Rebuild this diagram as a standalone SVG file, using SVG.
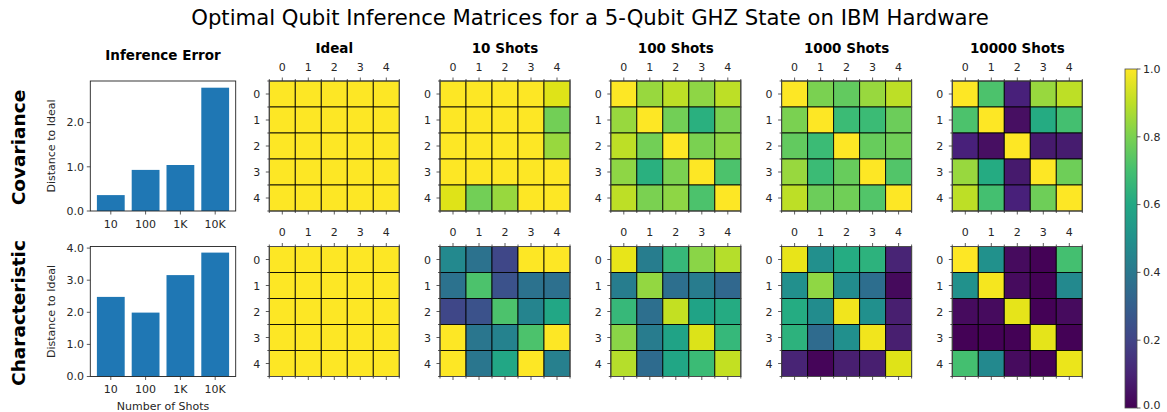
<svg xmlns="http://www.w3.org/2000/svg" width="1167" height="412" viewBox="0 0 1167 412">
<style>
text{font-family:"DejaVu Sans","Liberation Sans",sans-serif;fill:#262626}
.tk{font-size:11px}
.ttl{font-size:13.5px;font-weight:bold;fill:#000}
.row{font-size:18.5px;font-weight:bold;fill:#000}
.lab{font-size:11px}
.c{stroke:#000;stroke-opacity:0.85;stroke-width:1}
.frame{fill:none;stroke:#4d4d4d;stroke-width:1}
.tick{stroke:#333;stroke-width:0.8;fill:none}
.bar{fill:#1f77b4}
.ax{fill:none;stroke:#222;stroke-width:0.9}
</style>
<defs>
  <linearGradient id="viridis" x1="0" y1="1" x2="0" y2="0">
    <stop offset="0" stop-color="#440154"/>
    <stop offset="0.1" stop-color="#482475"/>
    <stop offset="0.2" stop-color="#414487"/>
    <stop offset="0.3" stop-color="#355f8d"/>
    <stop offset="0.4" stop-color="#2a788e"/>
    <stop offset="0.5" stop-color="#21918c"/>
    <stop offset="0.6" stop-color="#22a884"/>
    <stop offset="0.7" stop-color="#44bf70"/>
    <stop offset="0.8" stop-color="#7ad151"/>
    <stop offset="0.9" stop-color="#bddf26"/>
    <stop offset="1" stop-color="#fde725"/>
  </linearGradient>
  <!-- major ticks at cell centres, minor ticks at cell boundaries -->
  <path id="mticks" class="tick" d="M13,0v-3.5M39,0v-3.5M65,0v-3.5M91,0v-3.5M117,0v-3.5
    M13,130v3.5M39,130v3.5M65,130v3.5M91,130v3.5M117,130v3.5
    M0,13h-3.5M0,39h-3.5M0,65h-3.5M0,91h-3.5M0,117h-3.5
    M0,0v-2M26,0v-2M52,0v-2M78,0v-2M104,0v-2M130,0v-2
    M0,130v2M26,130v2M52,130v2M78,130v2M104,130v2M130,130v2
    M0,0h-2M0,26h-2M0,52h-2M0,78h-2M0,104h-2M0,130h-2"/>
</defs>

<rect width="1167" height="412" fill="#fff"/>

<text x="590" y="25" text-anchor="middle" style="font-size:21.2px;fill:#000">Optimal Qubit Inference Matrices for a 5-Qubit GHZ State on IBM Hardware</text>

<!-- row headings -->
<text class="row" transform="translate(25,147.5) rotate(-90)" text-anchor="middle">Covariance</text>
<text class="row" transform="translate(25,313) rotate(-90)" text-anchor="middle">Characteristic</text>

<!-- bar chart: covariance error -->
<g id="bar-cov">
  <text class="ttl" x="163" y="59.5" text-anchor="middle">Inference Error</text>
  <rect class="bar" x="96.9" y="195.1" width="27.8" height="15.9"/>
  <rect class="bar" x="131.7" y="169.9" width="27.8" height="41.1"/>
  <rect class="bar" x="166.5" y="165" width="27.8" height="46"/>
  <rect class="bar" x="201.3" y="87.7" width="27.8" height="123.3"/>
  <rect class="ax" x="90.3" y="81" width="145.4" height="130"/>
  <path class="tick" d="M90.3,211h-3.5M90.3,166.8h-3.5M90.3,122.6h-3.5M110.8,211v3.5M145.6,211v3.5M180.4,211v3.5M215.2,211v3.5"/>
  <text class="tk" x="84" y="214.8" text-anchor="end">0.0</text>
  <text class="tk" x="84" y="170.6" text-anchor="end">1.0</text>
  <text class="tk" x="84" y="126.4" text-anchor="end">2.0</text>
  <text class="tk" x="110.8" y="227.5" text-anchor="middle">10</text>
  <text class="tk" x="145.6" y="227.5" text-anchor="middle">100</text>
  <text class="tk" x="180.4" y="227.5" text-anchor="middle">1K</text>
  <text class="tk" x="215.2" y="227.5" text-anchor="middle">10K</text>
  <text class="lab" transform="translate(55,146) rotate(-90)" text-anchor="middle">Distance to Ideal</text>
</g>

<!-- bar chart: characteristic error -->
<g id="bar-char">
  <rect class="bar" x="96.9" y="296.9" width="27.8" height="79.6"/>
  <rect class="bar" x="131.7" y="312.6" width="27.8" height="63.9"/>
  <rect class="bar" x="166.5" y="275.1" width="27.8" height="101.4"/>
  <rect class="bar" x="201.3" y="252.6" width="27.8" height="123.9"/>
  <rect class="ax" x="90.3" y="246.5" width="145.4" height="130"/>
  <path class="tick" d="M90.3,376.5h-3.5M90.3,344.4h-3.5M90.3,312.3h-3.5M90.3,280.2h-3.5M90.3,248.1h-3.5M110.8,376.5v3.5M145.6,376.5v3.5M180.4,376.5v3.5M215.2,376.5v3.5"/>
  <text class="tk" x="84" y="380.3" text-anchor="end">0.0</text>
  <text class="tk" x="84" y="348.2" text-anchor="end">1.0</text>
  <text class="tk" x="84" y="316.1" text-anchor="end">2.0</text>
  <text class="tk" x="84" y="284" text-anchor="end">3.0</text>
  <text class="tk" x="84" y="251.9" text-anchor="end">4.0</text>
  <text class="tk" x="110.8" y="393" text-anchor="middle">10</text>
  <text class="tk" x="145.6" y="393" text-anchor="middle">100</text>
  <text class="tk" x="180.4" y="393" text-anchor="middle">1K</text>
  <text class="tk" x="215.2" y="393" text-anchor="middle">10K</text>
  <text class="lab" transform="translate(55,311.5) rotate(-90)" text-anchor="middle">Distance to Ideal</text>
  <text class="lab" x="163" y="409.5" text-anchor="middle">Number of Shots</text>
</g>

<!-- ===== covariance matrices ===== -->
<g id="cov-ideal" transform="translate(269.3,81)">
  <text class="ttl" x="65" y="-28.5" text-anchor="middle">Ideal</text>
  <g class="c" fill="#fde725">
    <rect x="0" y="0" width="26" height="26"/><rect x="26" y="0" width="26" height="26"/><rect x="52" y="0" width="26" height="26"/><rect x="78" y="0" width="26" height="26"/><rect x="104" y="0" width="26" height="26"/>
    <rect x="0" y="26" width="26" height="26"/><rect x="26" y="26" width="26" height="26"/><rect x="52" y="26" width="26" height="26"/><rect x="78" y="26" width="26" height="26"/><rect x="104" y="26" width="26" height="26"/>
    <rect x="0" y="52" width="26" height="26"/><rect x="26" y="52" width="26" height="26"/><rect x="52" y="52" width="26" height="26"/><rect x="78" y="52" width="26" height="26"/><rect x="104" y="52" width="26" height="26"/>
    <rect x="0" y="78" width="26" height="26"/><rect x="26" y="78" width="26" height="26"/><rect x="52" y="78" width="26" height="26"/><rect x="78" y="78" width="26" height="26"/><rect x="104" y="78" width="26" height="26"/>
    <rect x="0" y="104" width="26" height="26"/><rect x="26" y="104" width="26" height="26"/><rect x="52" y="104" width="26" height="26"/><rect x="78" y="104" width="26" height="26"/><rect x="104" y="104" width="26" height="26"/>
  </g>
  <rect class="frame" width="130" height="130"/>
  <use href="#mticks"/>
  <g class="tk" text-anchor="middle"><text x="13" y="-10.3">0</text><text x="39" y="-10.3">1</text><text x="65" y="-10.3">2</text><text x="91" y="-10.3">3</text><text x="117" y="-10.3">4</text></g>
  <g class="tk" text-anchor="end"><text x="-9" y="17">0</text><text x="-9" y="43">1</text><text x="-9" y="69">2</text><text x="-9" y="95">3</text><text x="-9" y="121">4</text></g>
</g>

<g id="cov-10" transform="translate(440,81)">
  <text class="ttl" x="65" y="-28.5" text-anchor="middle">10 Shots</text>
  <g class="c">
    <rect x="0" y="0" width="26" height="26" fill="#fde725"/><rect x="26" y="0" width="26" height="26" fill="#fde725"/><rect x="52" y="0" width="26" height="26" fill="#fde725"/><rect x="78" y="0" width="26" height="26" fill="#fde725"/><rect x="104" y="0" width="26" height="26" fill="#dfe318"/>
    <rect x="0" y="26" width="26" height="26" fill="#fde725"/><rect x="26" y="26" width="26" height="26" fill="#fde725"/><rect x="52" y="26" width="26" height="26" fill="#fde725"/><rect x="78" y="26" width="26" height="26" fill="#fde725"/><rect x="104" y="26" width="26" height="26" fill="#72cf56"/>
    <rect x="0" y="52" width="26" height="26" fill="#fde725"/><rect x="26" y="52" width="26" height="26" fill="#fde725"/><rect x="52" y="52" width="26" height="26" fill="#fde725"/><rect x="78" y="52" width="26" height="26" fill="#fde725"/><rect x="104" y="52" width="26" height="26" fill="#98d83e"/>
    <rect x="0" y="78" width="26" height="26" fill="#fde725"/><rect x="26" y="78" width="26" height="26" fill="#fde725"/><rect x="52" y="78" width="26" height="26" fill="#fde725"/><rect x="78" y="78" width="26" height="26" fill="#fde725"/><rect x="104" y="78" width="26" height="26" fill="#fde725"/>
    <rect x="0" y="104" width="26" height="26" fill="#dfe318"/><rect x="26" y="104" width="26" height="26" fill="#72cf56"/><rect x="52" y="104" width="26" height="26" fill="#98d83e"/><rect x="78" y="104" width="26" height="26" fill="#fde725"/><rect x="104" y="104" width="26" height="26" fill="#fde725"/>
  </g>
  <rect class="frame" width="130" height="130"/>
  <use href="#mticks"/>
  <g class="tk" text-anchor="middle"><text x="13" y="-10.3">0</text><text x="39" y="-10.3">1</text><text x="65" y="-10.3">2</text><text x="91" y="-10.3">3</text><text x="117" y="-10.3">4</text></g>
  <g class="tk" text-anchor="end"><text x="-9" y="17">0</text><text x="-9" y="43">1</text><text x="-9" y="69">2</text><text x="-9" y="95">3</text><text x="-9" y="121">4</text></g>
</g>

<g id="cov-100" transform="translate(610.8,81)">
  <text class="ttl" x="65" y="-28.5" text-anchor="middle">100 Shots</text>
  <g class="c">
    <rect x="0" y="0" width="26" height="26" fill="#fde725"/><rect x="26" y="0" width="26" height="26" fill="#98d83e"/><rect x="52" y="0" width="26" height="26" fill="#bddf26"/><rect x="78" y="0" width="26" height="26" fill="#8ed645"/><rect x="104" y="0" width="26" height="26" fill="#bddf26"/>
    <rect x="0" y="26" width="26" height="26" fill="#98d83e"/><rect x="26" y="26" width="26" height="26" fill="#fde725"/><rect x="52" y="26" width="26" height="26" fill="#72cf56"/><rect x="78" y="26" width="26" height="26" fill="#2ab07f"/><rect x="104" y="26" width="26" height="26" fill="#7ad151"/>
    <rect x="0" y="52" width="26" height="26" fill="#bddf26"/><rect x="26" y="52" width="26" height="26" fill="#72cf56"/><rect x="52" y="52" width="26" height="26" fill="#fde725"/><rect x="78" y="52" width="26" height="26" fill="#7ad151"/><rect x="104" y="52" width="26" height="26" fill="#8ed645"/>
    <rect x="0" y="78" width="26" height="26" fill="#8ed645"/><rect x="26" y="78" width="26" height="26" fill="#2ab07f"/><rect x="52" y="78" width="26" height="26" fill="#7ad151"/><rect x="78" y="78" width="26" height="26" fill="#fde725"/><rect x="104" y="78" width="26" height="26" fill="#4cc26c"/>
    <rect x="0" y="104" width="26" height="26" fill="#bddf26"/><rect x="26" y="104" width="26" height="26" fill="#7ad151"/><rect x="52" y="104" width="26" height="26" fill="#8ed645"/><rect x="78" y="104" width="26" height="26" fill="#4cc26c"/><rect x="104" y="104" width="26" height="26" fill="#fde725"/>
  </g>
  <rect class="frame" width="130" height="130"/>
  <use href="#mticks"/>
  <g class="tk" text-anchor="middle"><text x="13" y="-10.3">0</text><text x="39" y="-10.3">1</text><text x="65" y="-10.3">2</text><text x="91" y="-10.3">3</text><text x="117" y="-10.3">4</text></g>
  <g class="tk" text-anchor="end"><text x="-9" y="17">0</text><text x="-9" y="43">1</text><text x="-9" y="69">2</text><text x="-9" y="95">3</text><text x="-9" y="121">4</text></g>
</g>

<g id="cov-1000" transform="translate(781.6,81)">
  <text class="ttl" x="65" y="-28.5" text-anchor="middle">1000 Shots</text>
  <g class="c">
    <rect x="0" y="0" width="26" height="26" fill="#fde725"/><rect x="26" y="0" width="26" height="26" fill="#7ad151"/><rect x="52" y="0" width="26" height="26" fill="#62ca5f"/><rect x="78" y="0" width="26" height="26" fill="#98d83e"/><rect x="104" y="0" width="26" height="26" fill="#bddf26"/>
    <rect x="0" y="26" width="26" height="26" fill="#7ad151"/><rect x="26" y="26" width="26" height="26" fill="#fde725"/><rect x="52" y="26" width="26" height="26" fill="#3bbb75"/><rect x="78" y="26" width="26" height="26" fill="#3bbb75"/><rect x="104" y="26" width="26" height="26" fill="#6ccd5a"/>
    <rect x="0" y="52" width="26" height="26" fill="#62ca5f"/><rect x="26" y="52" width="26" height="26" fill="#3bbb75"/><rect x="52" y="52" width="26" height="26" fill="#fde725"/><rect x="78" y="52" width="26" height="26" fill="#67cc5c"/><rect x="104" y="52" width="26" height="26" fill="#70cf57"/>
    <rect x="0" y="78" width="26" height="26" fill="#98d83e"/><rect x="26" y="78" width="26" height="26" fill="#3bbb75"/><rect x="52" y="78" width="26" height="26" fill="#67cc5c"/><rect x="78" y="78" width="26" height="26" fill="#fde725"/><rect x="104" y="78" width="26" height="26" fill="#52c569"/>
    <rect x="0" y="104" width="26" height="26" fill="#bddf26"/><rect x="26" y="104" width="26" height="26" fill="#6ccd5a"/><rect x="52" y="104" width="26" height="26" fill="#70cf57"/><rect x="78" y="104" width="26" height="26" fill="#52c569"/><rect x="104" y="104" width="26" height="26" fill="#fde725"/>
  </g>
  <rect class="frame" width="130" height="130"/>
  <use href="#mticks"/>
  <g class="tk" text-anchor="middle"><text x="13" y="-10.3">0</text><text x="39" y="-10.3">1</text><text x="65" y="-10.3">2</text><text x="91" y="-10.3">3</text><text x="117" y="-10.3">4</text></g>
  <g class="tk" text-anchor="end"><text x="-9" y="17">0</text><text x="-9" y="43">1</text><text x="-9" y="69">2</text><text x="-9" y="95">3</text><text x="-9" y="121">4</text></g>
</g>

<g id="cov-10000" transform="translate(952.3,81)">
  <text class="ttl" x="65" y="-28.5" text-anchor="middle">10000 Shots</text>
  <g class="c">
    <rect x="0" y="0" width="26" height="26" fill="#fde725"/><rect x="26" y="0" width="26" height="26" fill="#4cc26c"/><rect x="52" y="0" width="26" height="26" fill="#48207a"/><rect x="78" y="0" width="26" height="26" fill="#98d83e"/><rect x="104" y="0" width="26" height="26" fill="#bddf26"/>
    <rect x="0" y="26" width="26" height="26" fill="#4cc26c"/><rect x="26" y="26" width="26" height="26" fill="#fde725"/><rect x="52" y="26" width="26" height="26" fill="#470f62"/><rect x="78" y="26" width="26" height="26" fill="#25ab82"/><rect x="104" y="26" width="26" height="26" fill="#44bf70"/>
    <rect x="0" y="52" width="26" height="26" fill="#48207a"/><rect x="26" y="52" width="26" height="26" fill="#470f62"/><rect x="52" y="52" width="26" height="26" fill="#fde725"/><rect x="78" y="52" width="26" height="26" fill="#461a6d"/><rect x="104" y="52" width="26" height="26" fill="#461c6f"/>
    <rect x="0" y="78" width="26" height="26" fill="#98d83e"/><rect x="26" y="78" width="26" height="26" fill="#25ab82"/><rect x="52" y="78" width="26" height="26" fill="#461a6d"/><rect x="78" y="78" width="26" height="26" fill="#fde725"/><rect x="104" y="78" width="26" height="26" fill="#6ece58"/>
    <rect x="0" y="104" width="26" height="26" fill="#bddf26"/><rect x="26" y="104" width="26" height="26" fill="#44bf70"/><rect x="52" y="104" width="26" height="26" fill="#48207a"/><rect x="78" y="104" width="26" height="26" fill="#6ece58"/><rect x="104" y="104" width="26" height="26" fill="#fde725"/>
  </g>
  <rect class="frame" width="130" height="130"/>
  <use href="#mticks"/>
  <g class="tk" text-anchor="middle"><text x="13" y="-10.3">0</text><text x="39" y="-10.3">1</text><text x="65" y="-10.3">2</text><text x="91" y="-10.3">3</text><text x="117" y="-10.3">4</text></g>
  <g class="tk" text-anchor="end"><text x="-9" y="17">0</text><text x="-9" y="43">1</text><text x="-9" y="69">2</text><text x="-9" y="95">3</text><text x="-9" y="121">4</text></g>
</g>

<!-- ===== characteristic matrices ===== -->
<g id="char-ideal" transform="translate(269.3,246.5)">
  <g class="c" fill="#fde725">
    <rect x="0" y="0" width="26" height="26"/><rect x="26" y="0" width="26" height="26"/><rect x="52" y="0" width="26" height="26"/><rect x="78" y="0" width="26" height="26"/><rect x="104" y="0" width="26" height="26"/>
    <rect x="0" y="26" width="26" height="26"/><rect x="26" y="26" width="26" height="26"/><rect x="52" y="26" width="26" height="26"/><rect x="78" y="26" width="26" height="26"/><rect x="104" y="26" width="26" height="26"/>
    <rect x="0" y="52" width="26" height="26"/><rect x="26" y="52" width="26" height="26"/><rect x="52" y="52" width="26" height="26"/><rect x="78" y="52" width="26" height="26"/><rect x="104" y="52" width="26" height="26"/>
    <rect x="0" y="78" width="26" height="26"/><rect x="26" y="78" width="26" height="26"/><rect x="52" y="78" width="26" height="26"/><rect x="78" y="78" width="26" height="26"/><rect x="104" y="78" width="26" height="26"/>
    <rect x="0" y="104" width="26" height="26"/><rect x="26" y="104" width="26" height="26"/><rect x="52" y="104" width="26" height="26"/><rect x="78" y="104" width="26" height="26"/><rect x="104" y="104" width="26" height="26"/>
  </g>
  <rect class="frame" width="130" height="130"/>
  <use href="#mticks"/>
  <g class="tk" text-anchor="middle"><text x="13" y="-10.8">0</text><text x="39" y="-10.8">1</text><text x="65" y="-10.8">2</text><text x="91" y="-10.8">3</text><text x="117" y="-10.8">4</text></g>
  <g class="tk" text-anchor="end"><text x="-9" y="17">0</text><text x="-9" y="43">1</text><text x="-9" y="69">2</text><text x="-9" y="95">3</text><text x="-9" y="121">4</text></g>
</g>

<g id="char-10" transform="translate(440,246.5)">
  <g class="c">
    <rect x="0" y="0" width="26" height="26" fill="#23898e"/><rect x="26" y="0" width="26" height="26" fill="#2c728e"/><rect x="52" y="0" width="26" height="26" fill="#3f4788"/><rect x="78" y="0" width="26" height="26" fill="#fde725"/><rect x="104" y="0" width="26" height="26" fill="#fde725"/>
    <rect x="0" y="26" width="26" height="26" fill="#2c728e"/><rect x="26" y="26" width="26" height="26" fill="#4cc26c"/><rect x="52" y="26" width="26" height="26" fill="#3b528b"/><rect x="78" y="26" width="26" height="26" fill="#2c728e"/><rect x="104" y="26" width="26" height="26" fill="#2d708e"/>
    <rect x="0" y="52" width="26" height="26" fill="#3f4788"/><rect x="26" y="52" width="26" height="26" fill="#3b528b"/><rect x="52" y="52" width="26" height="26" fill="#4cc26c"/><rect x="78" y="52" width="26" height="26" fill="#25848e"/><rect x="104" y="52" width="26" height="26" fill="#22a785"/>
    <rect x="0" y="78" width="26" height="26" fill="#fde725"/><rect x="26" y="78" width="26" height="26" fill="#2a768e"/><rect x="52" y="78" width="26" height="26" fill="#25828e"/><rect x="78" y="78" width="26" height="26" fill="#4cc26c"/><rect x="104" y="78" width="26" height="26" fill="#fde725"/>
    <rect x="0" y="104" width="26" height="26" fill="#fde725"/><rect x="26" y="104" width="26" height="26" fill="#2a768e"/><rect x="52" y="104" width="26" height="26" fill="#22a785"/><rect x="78" y="104" width="26" height="26" fill="#fde725"/><rect x="104" y="104" width="26" height="26" fill="#27808e"/>
  </g>
  <rect class="frame" width="130" height="130"/>
  <use href="#mticks"/>
  <g class="tk" text-anchor="middle"><text x="13" y="-10.8">0</text><text x="39" y="-10.8">1</text><text x="65" y="-10.8">2</text><text x="91" y="-10.8">3</text><text x="117" y="-10.8">4</text></g>
  <g class="tk" text-anchor="end"><text x="-9" y="17">0</text><text x="-9" y="43">1</text><text x="-9" y="69">2</text><text x="-9" y="95">3</text><text x="-9" y="121">4</text></g>
</g>

<g id="char-100" transform="translate(610.8,246.5)">
  <g class="c">
    <rect x="0" y="0" width="26" height="26" fill="#e8e519"/><rect x="26" y="0" width="26" height="26" fill="#277d8e"/><rect x="52" y="0" width="26" height="26" fill="#37b879"/><rect x="78" y="0" width="26" height="26" fill="#8ad547"/><rect x="104" y="0" width="26" height="26" fill="#b5de2b"/>
    <rect x="0" y="26" width="26" height="26" fill="#277d8e"/><rect x="26" y="26" width="26" height="26" fill="#93d741"/><rect x="52" y="26" width="26" height="26" fill="#2d6f8e"/><rect x="78" y="26" width="26" height="26" fill="#287c8e"/><rect x="104" y="26" width="26" height="26" fill="#31688e"/>
    <rect x="0" y="52" width="26" height="26" fill="#37b879"/><rect x="26" y="52" width="26" height="26" fill="#2d6f8e"/><rect x="52" y="52" width="26" height="26" fill="#c3e022"/><rect x="78" y="52" width="26" height="26" fill="#20a386"/><rect x="104" y="52" width="26" height="26" fill="#25ab82"/>
    <rect x="0" y="78" width="26" height="26" fill="#8ad547"/><rect x="26" y="78" width="26" height="26" fill="#287c8e"/><rect x="52" y="78" width="26" height="26" fill="#20a386"/><rect x="78" y="78" width="26" height="26" fill="#dce319"/><rect x="104" y="78" width="26" height="26" fill="#36b87a"/>
    <rect x="0" y="104" width="26" height="26" fill="#b5de2b"/><rect x="26" y="104" width="26" height="26" fill="#2e6b8e"/><rect x="52" y="104" width="26" height="26" fill="#21a685"/><rect x="78" y="104" width="26" height="26" fill="#3bbb75"/><rect x="104" y="104" width="26" height="26" fill="#c3e022"/>
  </g>
  <rect class="frame" width="130" height="130"/>
  <use href="#mticks"/>
  <g class="tk" text-anchor="middle"><text x="13" y="-10.8">0</text><text x="39" y="-10.8">1</text><text x="65" y="-10.8">2</text><text x="91" y="-10.8">3</text><text x="117" y="-10.8">4</text></g>
  <g class="tk" text-anchor="end"><text x="-9" y="17">0</text><text x="-9" y="43">1</text><text x="-9" y="69">2</text><text x="-9" y="95">3</text><text x="-9" y="121">4</text></g>
</g>

<g id="char-1000" transform="translate(781.6,246.5)">
  <g class="c">
    <rect x="0" y="0" width="26" height="26" fill="#e8e419"/><rect x="26" y="0" width="26" height="26" fill="#22908d"/><rect x="52" y="0" width="26" height="26" fill="#25ac82"/><rect x="78" y="0" width="26" height="26" fill="#2db27d"/><rect x="104" y="0" width="26" height="26" fill="#482475"/>
    <rect x="0" y="26" width="26" height="26" fill="#22908d"/><rect x="26" y="26" width="26" height="26" fill="#8fd744"/><rect x="52" y="26" width="26" height="26" fill="#228c8d"/><rect x="78" y="26" width="26" height="26" fill="#2d6e8e"/><rect x="104" y="26" width="26" height="26" fill="#450a5c"/>
    <rect x="0" y="52" width="26" height="26" fill="#25ac82"/><rect x="26" y="52" width="26" height="26" fill="#228c8d"/><rect x="52" y="52" width="26" height="26" fill="#f1e51d"/><rect x="78" y="52" width="26" height="26" fill="#21908d"/><rect x="104" y="52" width="26" height="26" fill="#481f70"/>
    <rect x="0" y="78" width="26" height="26" fill="#2db27d"/><rect x="26" y="78" width="26" height="26" fill="#2f6b8e"/><rect x="52" y="78" width="26" height="26" fill="#21908d"/><rect x="78" y="78" width="26" height="26" fill="#f1e51d"/><rect x="104" y="78" width="26" height="26" fill="#481f70"/>
    <rect x="0" y="104" width="26" height="26" fill="#482475"/><rect x="26" y="104" width="26" height="26" fill="#450559"/><rect x="52" y="104" width="26" height="26" fill="#481f70"/><rect x="78" y="104" width="26" height="26" fill="#481f70"/><rect x="104" y="104" width="26" height="26" fill="#dfe318"/>
  </g>
  <rect class="frame" width="130" height="130"/>
  <use href="#mticks"/>
  <g class="tk" text-anchor="middle"><text x="13" y="-10.8">0</text><text x="39" y="-10.8">1</text><text x="65" y="-10.8">2</text><text x="91" y="-10.8">3</text><text x="117" y="-10.8">4</text></g>
  <g class="tk" text-anchor="end"><text x="-9" y="17">0</text><text x="-9" y="43">1</text><text x="-9" y="69">2</text><text x="-9" y="95">3</text><text x="-9" y="121">4</text></g>
</g>

<g id="char-10000" transform="translate(952.3,246.5)">
  <g class="c">
    <rect x="0" y="0" width="26" height="26" fill="#fde725"/><rect x="26" y="0" width="26" height="26" fill="#21918c"/><rect x="52" y="0" width="26" height="26" fill="#460b5e"/><rect x="78" y="0" width="26" height="26" fill="#440256"/><rect x="104" y="0" width="26" height="26" fill="#44bf70"/>
    <rect x="0" y="26" width="26" height="26" fill="#21918c"/><rect x="26" y="26" width="26" height="26" fill="#f5e61f"/><rect x="52" y="26" width="26" height="26" fill="#460b5e"/><rect x="78" y="26" width="26" height="26" fill="#440256"/><rect x="104" y="26" width="26" height="26" fill="#23898e"/>
    <rect x="0" y="52" width="26" height="26" fill="#460b5e"/><rect x="26" y="52" width="26" height="26" fill="#460b5e"/><rect x="52" y="52" width="26" height="26" fill="#e6e41a"/><rect x="78" y="52" width="26" height="26" fill="#440256"/><rect x="104" y="52" width="26" height="26" fill="#460b5e"/>
    <rect x="0" y="78" width="26" height="26" fill="#440256"/><rect x="26" y="78" width="26" height="26" fill="#440256"/><rect x="52" y="78" width="26" height="26" fill="#440256"/><rect x="78" y="78" width="26" height="26" fill="#e5e41a"/><rect x="104" y="78" width="26" height="26" fill="#440256"/>
    <rect x="0" y="104" width="26" height="26" fill="#44bf70"/><rect x="26" y="104" width="26" height="26" fill="#23898e"/><rect x="52" y="104" width="26" height="26" fill="#460b5e"/><rect x="78" y="104" width="26" height="26" fill="#440256"/><rect x="104" y="104" width="26" height="26" fill="#ebe51b"/>
  </g>
  <rect class="frame" width="130" height="130"/>
  <use href="#mticks"/>
  <g class="tk" text-anchor="middle"><text x="13" y="-10.8">0</text><text x="39" y="-10.8">1</text><text x="65" y="-10.8">2</text><text x="91" y="-10.8">3</text><text x="117" y="-10.8">4</text></g>
  <g class="tk" text-anchor="end"><text x="-9" y="17">0</text><text x="-9" y="43">1</text><text x="-9" y="69">2</text><text x="-9" y="95">3</text><text x="-9" y="121">4</text></g>
</g>

<!-- colour bar -->
<g id="colorbar">
  <rect x="1125" y="69" width="12" height="339" fill="url(#viridis)" stroke="#4d4d4d" stroke-width="0.8"/>
  <path class="tick" d="M1137,69h3.5M1137,136.8h3.5M1137,204.6h3.5M1137,272.4h3.5M1137,340.2h3.5M1137,408h3.5"/>
  <g class="tk">
    <text x="1143" y="72.8">1.0</text>
    <text x="1143" y="140.6">0.8</text>
    <text x="1143" y="208.4">0.6</text>
    <text x="1143" y="276.2">0.4</text>
    <text x="1143" y="344">0.2</text>
    <text x="1143" y="409">0.0</text>
  </g>
</g>
</svg>
